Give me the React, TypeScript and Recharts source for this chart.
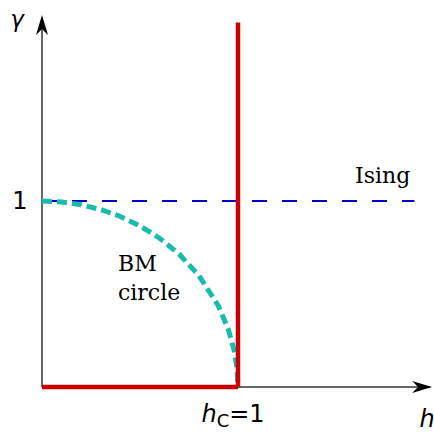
import React from "react"
import { ComposedChart, Line, XAxis, YAxis, ReferenceLine, ReferenceDot } from "recharts"

// BM circle, points (quarter circle of radius 1)
const circleX = [0, 0.1, 0.2, 0.3, 0.4, 0.5, 0.6, 0.7, 0.8, 0.9, 0.95, 0.98, 0.995, 1]
const circleY = [1, 0.995, 0.98, 0.954, 0.917, 0.866, 0.8, 0.714, 0.6, 0.436, 0.312, 0.199, 0.1, 0]

const hc = 1
const gammaIsing = 1
const isingEnd = 1.9
const criticalTop = 1.96
const xMax = 2
const yMax = 2

const circleData = circleX.map((x, i) => ({ x, bm: circleY[i] }))

const W = 434
const H = 432

function ArrowUp(props: any) {
  const { cx, cy } = props
  return <path d={`M${cx},${cy} L${cx - 6},${cy + 20} L${cx},${cy + 14} L${cx + 6},${cy + 20} Z`} fill="#000" />
}

function ArrowRight(props: any) {
  const { cx, cy } = props
  return <path d={`M${cx},${cy} L${cx - 20},${cy - 6} L${cx - 14},${cy} L${cx - 20},${cy + 6} Z`} fill="#000" />
}

export default function App() {
  return (
    <div style={{ position: "absolute", left: 0, top: 0, width: W, height: H, background: "#fff" }}>
      <ComposedChart width={W} height={H} data={circleData} margin={{ top: 15, right: 0, bottom: 45, left: 42 }}>
        <XAxis type="number" dataKey="x" domain={[0, xMax]} hide />
        <YAxis type="number" domain={[0, yMax]} hide />

        {/* axes */}
        <ReferenceLine segment={[{ x: 0, y: 0 }, { x: 0, y: yMax - 0.04 }]} stroke="#666" strokeWidth={2} ifOverflow="visible" />
        <ReferenceLine segment={[{ x: 0, y: 0 }, { x: xMax - 0.02, y: 0 }]} stroke="#666" strokeWidth={2} ifOverflow="visible" />
        <ReferenceDot x={0} y={yMax} r={0} shape={ArrowUp} ifOverflow="visible" />
        <ReferenceDot x={xMax - 0.01} y={0} r={0} shape={ArrowRight} ifOverflow="visible" />

        {/* Ising line */}
        <ReferenceLine
          segment={[{ x: 0, y: gammaIsing }, { x: isingEnd, y: gammaIsing }]}
          stroke="#0000c8"
          strokeWidth={2}
          strokeDasharray="15 15"
          ifOverflow="visible"
        />

        <Line
          type="linear"
          dataKey="bm"
          stroke="#17bcac"
          strokeWidth={5}
          strokeDasharray="10 5"
          dot={false}
          isAnimationActive={false}
        />

        {/* critical lines */}
        <ReferenceLine segment={[{ x: hc, y: 0 }, { x: hc, y: criticalTop }]} stroke="#cc0000" strokeWidth={4.5} ifOverflow="visible" />
        <ReferenceLine segment={[{ x: 0, y: 0 }, { x: hc, y: 0 }]} stroke="#cc0000" strokeWidth={4.5} ifOverflow="visible" />

        {/* labels */}
        <text x={20} y={209} textAnchor="middle" fontFamily="DejaVu Sans" fontSize={24}>1</text>
        <text x={17} y={27} textAnchor="middle" fontFamily="DejaVu Sans" fontStyle="italic" fontSize={23}>γ</text>
        <text x={427} y={427} textAnchor="middle" fontFamily="DejaVu Sans" fontStyle="italic" fontSize={24}>h</text>
        <text x={233} y={422} textAnchor="middle" fontFamily="DejaVu Sans" fontSize={24}>
          <tspan fontStyle="italic">h</tspan>
          <tspan fontSize={18} dy={5}>C</tspan>
          <tspan dy={-5}>=1</tspan>
        </text>
        <text x={118} y={271} fontFamily="DejaVu Serif" fontSize={22}>BM</text>
        <text x={118} y={300} fontFamily="DejaVu Serif" fontSize={22}>circle</text>
        <text x={355} y={183} fontFamily="DejaVu Serif" fontSize={22}>Ising</text>
      </ComposedChart>
    </div>
  )
}
